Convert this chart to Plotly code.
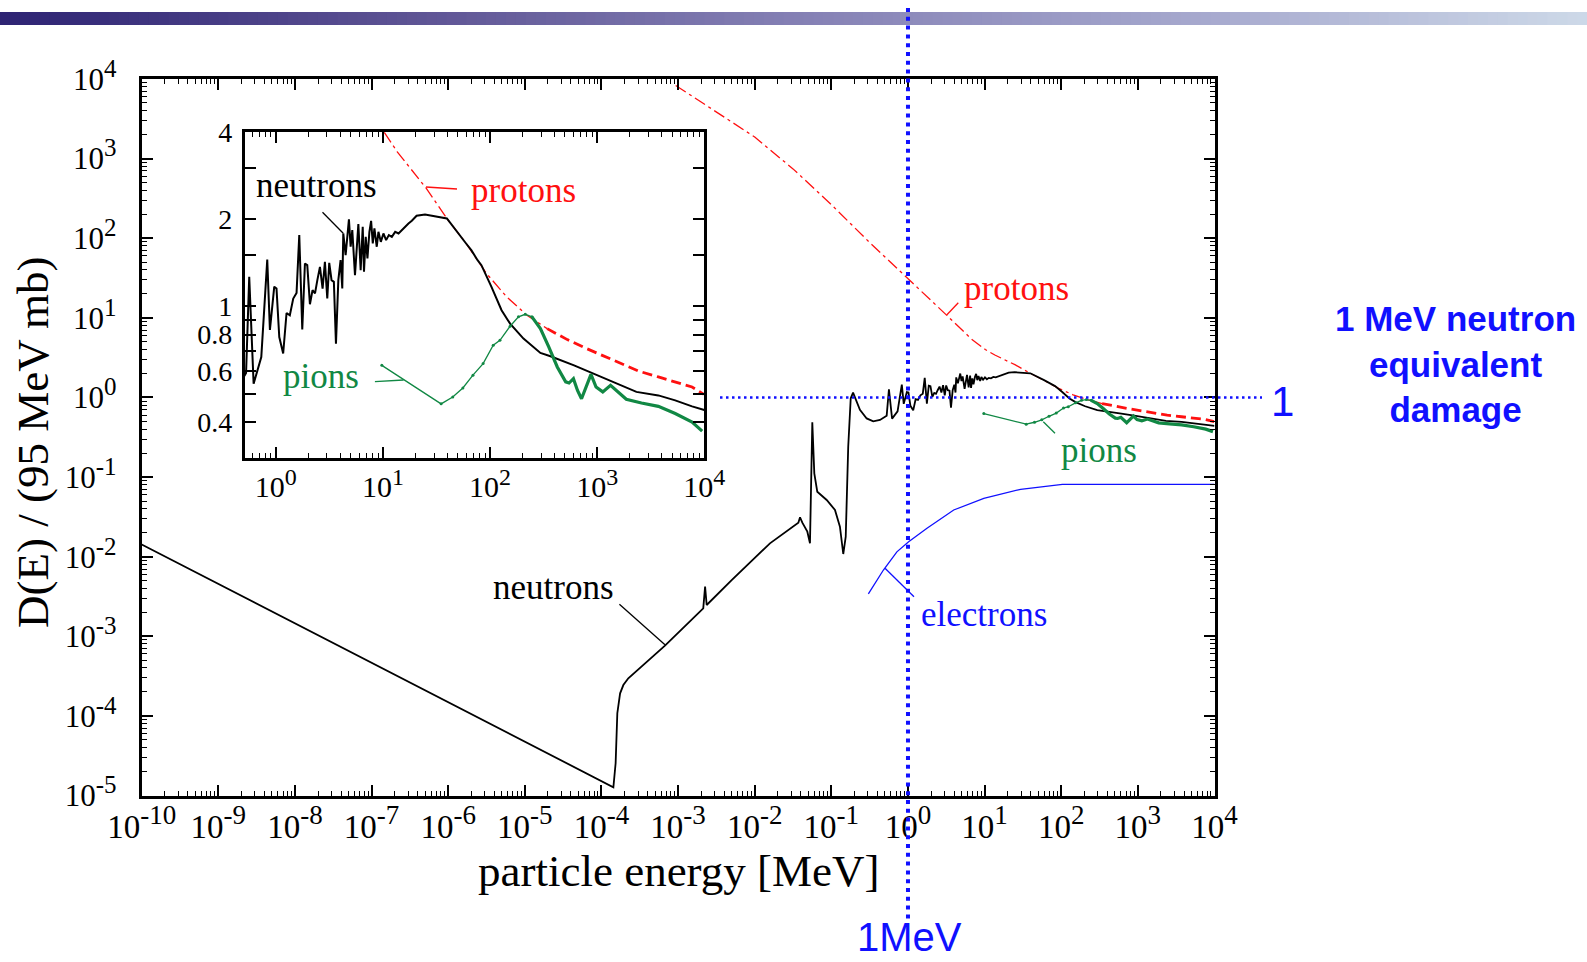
import math
import plotly.graph_objects as go

W, H = 1587, 962

# ---------------- damage functions, D(E) / (95 MeV mb) ----------------
neutron_energy = [
    1e-10, 1.43e-4, 1.53e-4, 1.61e-4, 1.75e-4, 1.93e-4, 2.24e-4, 6.74e-4,
    2.13e-3, 2.25e-3, 2.36e-3, 5.0e-3, 0.0158, 0.0371, 0.039, 0.0418,
    0.0486, 0.0526, 0.0564, 0.0599, 0.0655, 0.0869, 0.1115, 0.1294,
    0.143, 0.154, 0.166, 0.179, 0.192, 0.205, 0.236, 0.289, 0.352, 0.431,
    0.527, 0.564, 0.62, 0.731, 0.831, 0.88, 0.966, 1.014, 1.076, 1.17,
    1.258, 1.35, 1.453, 1.56, 1.654, 1.764, 1.868, 1.964, 2.08, 2.2,
    2.32, 2.44, 2.58, 2.73, 2.87, 3.02, 3.15, 3.31, 3.48, 3.64, 3.83,
    4.02, 4.17, 4.26, 4.48, 4.81, 4.99, 5.17, 5.48, 5.89, 6.19, 6.47,
    6.65, 6.9, 7.16, 7.47, 7.75, 8.03, 8.32, 8.75, 9.07, 9.55, 10.1,
    10.7, 11.35, 12.1, 13.0, 13.97, 15.0, 16.1, 17.3, 18.6, 20.6, 24.7,
    29.5, 36.6, 39.5, 59.7, 66.8, 76.4, 83.0, 103.0, 128.0, 153.7, 205.0,
    295.0, 366.0, 608.0, 939.0, 1256.0, 1679.0, 2325.0, 3724.0, 5350.0,
    7690.0, 10000.0,
]
neutron_damage = [
    0.0142, 1.27e-5, 2.54e-5, 1.08e-4, 1.92e-4, 2.44e-4, 2.97e-4, 7.62e-4,
    2.24e-3, 4.2e-3, 2.47e-3, 5.09e-3, 0.0147, 0.0267, 0.0312, 0.0267,
    0.0206, 0.0147, 0.487, 0.1115, 0.0655, 0.0515, 0.0386, 0.0238,
    0.0108, 0.0178, 0.24, 0.975, 1.15, 0.975, 0.70, 0.545, 0.50, 0.521,
    0.59, 1.265, 0.542, 0.67, 1.45, 0.83, 1.17, 1.153, 0.785, 0.689,
    0.95, 0.933, 1.065, 1.114, 1.762, 0.833, 1.406, 1.388, 1.018, 1.138,
    1.109, 1.232, 1.369, 1.153, 1.425, 1.065, 1.414, 1.232, 1.216, 0.745, 1.232,
    1.444, 1.153, 1.785, 1.503, 1.995, 1.606, 1.832, 1.282, 1.923, 1.334, 1.882,
    1.317, 1.738, 1.463, 1.808, 1.973, 1.648, 1.857, 1.606, 1.808, 1.67, 1.785,
    1.693, 1.762, 1.738, 1.808, 1.785, 1.832, 1.89, 1.932, 1.973, 2.053, 2.075,
    2.053, 2.026, 2.01, 1.648, 1.563, 1.444, 1.388, 1.169, 0.971, 0.873, 0.775,
    0.692, 0.674, 0.627, 0.585, 0.561, 0.535, 0.508, 0.494, 0.475,
    0.453, 0.44,
]

proton_energy = [
    9.3e-4, 3.16e-3, 0.01, 0.0316, 0.1, 0.316, 1.0, 3.16, 6.76, 10.2,
    13.6, 25.2, 39.5, 59.7, 69.2, 92.5, 142.9, 220.8, 341.0, 526.0,
    757.0, 1256.0, 2410.0, 3724.0, 5350.0, 7690.0, 9910.0,
]
proton_damage = [
    8300.0, 3900.0, 1866.0, 743.0, 264.0, 88.3, 31.3, 10.9, 5.4, 4.0,
    3.41, 2.56, 2.01, 1.65, 1.52, 1.30, 1.079, 0.933, 0.839, 0.769,
    0.722, 0.667, 0.600, 0.572, 0.550, 0.528, 0.498,
]

pion_energy = [
    9.76, 34.9, 44.8, 55.7, 69.2, 86.1, 107.0, 123.6, 153.7, 184.0,
    213.0, 246.0, 295.0, 353.0, 424.0, 508.0, 546.0, 600.0, 655.0, 714.0,
    785.0, 875.0, 976.0, 1128.0, 1332.0, 1561.0, 1870.0, 2592.0, 3724.0, 5350.0,
    7690.0, 9550.0,
]
pion_damage = [
    0.627, 0.462, 0.488, 0.524, 0.58, 0.636, 0.735, 0.765, 0.855, 0.921,
    0.94, 0.921, 0.839, 0.726, 0.619, 0.55, 0.545, 0.564, 0.514, 0.481,
    0.528, 0.584, 0.528, 0.508, 0.535, 0.508, 0.479, 0.465, 0.453, 0.428,
    0.40, 0.372,
]

electron_energy = [0.304, 0.478, 0.716, 1.02, 1.77, 3.95, 9.76, 29.5, 103.5, 10000.0]
electron_damage = [0.0034, 0.0068, 0.0115, 0.0154, 0.0227, 0.0386, 0.054, 0.0702, 0.081, 0.081]

# reference point: 1 MeV neutron
ref_energy = 1.0
ref_damage = 1.0

# ---------------- axis ticks ----------------
main_x_exponents = list(range(-10, 5))
main_y_exponents = list(range(-5, 5))
inset_x_exponents = [0, 1, 2, 3, 4]
inset_y_ticks = [0.4, 0.5, 0.6, 0.7, 0.8, 0.9, 1, 1.5, 2, 3, 4]
inset_y_labels = ["0.4", "", "0.6", "", "0.8", "", "1", "", "2", "", "4"]

# ---------------- layout geometry (pixels) ----------------
MX0, MX1, MY0, MY1 = 141.7, 1214.5, 79.0, 795.5      # main frame
IX0, IX1, IY0, IY1 = 244.8, 704.3, 131.7, 458.3      # inset frame
MAIN_XR, MAIN_YR = [-10, 4], [-5, 4]
INSET_XR, INSET_YR = [-0.29, 4.0], [math.log10(0.3), math.log10(4)]

SERIF = "Liberation Serif, Times New Roman, serif"
SANS = "Liberation Sans, Arial, sans-serif"
RED = "#ff1010"
GREEN = "#118844"
BLUE = "#1010ff"


def px(x):
    return x / W


def py(y):
    return 1 - y / H


def sup(k, size):
    return "10<sup><span style='font-size:%dpx'>%d</span></sup>" % (size, k)


fig = go.Figure()

# the same curves, drawn on the main axes and on the inset axes
for xa, ya, nw in (("x", "y", 1.8), ("x2", "y2", 2.0)):
    if xa == "x":
        fig.add_trace(go.Scatter(x=electron_energy, y=electron_damage, mode="lines",
                                 line=dict(color=BLUE, width=1.3),
                                 xaxis=xa, yaxis=ya, showlegend=False))
    fig.add_trace(go.Scatter(x=proton_energy[:19], y=proton_damage[:19], mode="lines",
                             line=dict(color=RED, width=1.3, dash="12px,4px,3px,4px"),
                             xaxis=xa, yaxis=ya, showlegend=False))
    fig.add_trace(go.Scatter(x=proton_energy[18:], y=proton_damage[18:], mode="lines",
                             line=dict(color=RED, width=2.8, dash="10px,5px"),
                             xaxis=xa, yaxis=ya, showlegend=False))
    fig.add_trace(go.Scatter(x=neutron_energy, y=neutron_damage, mode="lines",
                             line=dict(color="black", width=nw),
                             xaxis=xa, yaxis=ya, showlegend=False))
    fig.add_trace(go.Scatter(x=pion_energy[:12], y=pion_damage[:12], mode="lines+markers",
                             line=dict(color=GREEN, width=1.3),
                             marker=dict(size=3, color=GREEN),
                             xaxis=xa, yaxis=ya, showlegend=False))
    fig.add_trace(go.Scatter(x=pion_energy[11:], y=pion_damage[11:], mode="lines",
                             line=dict(color=GREEN, width=3.2),
                             xaxis=xa, yaxis=ya, showlegend=False))

axis_common = dict(type="log", showline=True, linecolor="black", mirror="ticks",
                   ticks="inside", tickcolor="black", showgrid=False, zeroline=False,
                   automargin=False)
minor_ticks = dict(ticks="inside", dtick="D1", ticklen=5, tickwidth=1.2, tickcolor="black")

fig.update_layout(
    width=W, height=H, autosize=False,
    margin=dict(l=0, r=0, t=0, b=0, pad=0, autoexpand=False),
    paper_bgcolor="white", plot_bgcolor="rgba(0,0,0,0)",
    xaxis=dict(axis_common, range=MAIN_XR, domain=[px(MX0), px(MX1)], anchor="y",
               linewidth=3, ticklen=11, tickwidth=1.5,
               tickfont=dict(family=SERIF, size=33, color="black"),
               tickvals=[10.0 ** k for k in main_x_exponents],
               ticktext=[sup(k, 27) for k in main_x_exponents],
               minor=minor_ticks),
    yaxis=dict(axis_common, range=MAIN_YR, domain=[py(MY1), py(MY0)], anchor="x",
               linewidth=3, ticklen=11, tickwidth=1.5, ticklabelstandoff=16,
               tickfont=dict(family=SERIF, size=31, color="black"),
               tickvals=[10.0 ** k for k in main_y_exponents],
               ticktext=[sup(k, 25) for k in main_y_exponents],
               minor=minor_ticks),
    xaxis2=dict(axis_common, range=INSET_XR, domain=[px(IX0), px(IX1)], anchor="y2",
                linewidth=3, ticklen=11, tickwidth=1.5,
                tickfont=dict(family=SERIF, size=30, color="black"),
                tickvals=[10.0 ** k for k in inset_x_exponents],
                ticktext=[sup(k, 24) for k in inset_x_exponents],
                minor=minor_ticks),
    yaxis2=dict(axis_common, range=INSET_YR, domain=[py(IY1), py(IY0)], anchor="x2",
                linewidth=3, ticklen=11, tickwidth=1.5, ticklabelstandoff=4,
                tickfont=dict(family=SERIF, size=28, color="black"),
                tickvals=inset_y_ticks, ticktext=inset_y_labels),
)

shapes = []

# header colour band
stops = [(0.0, (45, 35, 115)), (0.25, (92, 82, 147)), (0.5, (132, 128, 180)),
         (0.75, (165, 167, 205)), (1.0, (205, 217, 232))]
nband = 160
for i in range(nband):
    t = (i + 0.5) / nband
    for (t0, c0), (t1, c1) in zip(stops[:-1], stops[1:]):
        if t0 <= t <= t1:
            f = (t - t0) / (t1 - t0)
            c = tuple(int(round(a + (b - a) * f)) for a, b in zip(c0, c1))
            break
    shapes.append(dict(type="rect", xref="paper", yref="paper",
                       x0=i / nband, x1=(i + 1) / nband + 0.001, y0=py(25), y1=py(12),
                       fillcolor="rgb(%d,%d,%d)" % c, line=dict(width=0), layer="below"))

# 1 MeV reference lines, positioned through the main axis scales
ref_x_px = MX0 + (math.log10(ref_energy) - MAIN_XR[0]) / (MAIN_XR[1] - MAIN_XR[0]) * (MX1 - MX0)
ref_y_px = MY1 - (math.log10(ref_damage) - MAIN_YR[0]) / (MAIN_YR[1] - MAIN_YR[0]) * (MY1 - MY0)
shapes.append(dict(type="line", xref="paper", yref="paper",
                   x0=px(ref_x_px), x1=px(ref_x_px), y0=py(8), y1=py(921),
                   line=dict(color=BLUE, width=4, dash="4px,4.8px"), layer="above"))
shapes.append(dict(type="line", xref="paper", yref="paper",
                   x0=px(720), x1=px(1262), y0=py(ref_y_px), y1=py(ref_y_px),
                   line=dict(color=BLUE, width=2.5, dash="2.5px,3.5px"), layer="above"))

# label leader lines
leaders = [
    ((619.4, 604.2), (665.0, 644.7), "black"),      # neutrons (main)
    ((946.7, 315.0), (958.3, 302.7), RED),          # protons (main)
    ((1043.3, 421.7), (1055.0, 433.3), GREEN),      # pions (main)
    ((885.0, 568.3), (914.0, 596.7), BLUE),         # electrons
    ((322.5, 212.3), (343.2, 233.3), "black"),      # neutrons (inset)
    ((426.0, 187.0), (457.0, 189.0), RED),          # protons (inset)
    ((374.9, 381.7), (403.6, 380.0), GREEN),        # pions (inset)
]
for (x0, y0), (x1, y1), col in leaders:
    shapes.append(dict(type="line", xref="paper", yref="paper",
                       x0=px(x0), y0=py(y0), x1=px(x1), y1=py(y1),
                       line=dict(color=col, width=1.3)))

fig.update_layout(shapes=shapes)

annotations = []


def label(text, x, y, color, size, family=SERIF, **kw):
    annotations.append(dict(text=text, x=px(x), y=py(y), xref="paper", yref="paper",
                            xanchor="center", yanchor="middle", showarrow=False,
                            font=dict(family=family, size=size, color=color), **kw))


label("neutrons", 553.6, 587.0, "black", 35)
label("protons", 1016.0, 288.0, RED, 35)
label("pions", 1099.0, 450.0, GREEN, 35)
label("electrons", 984.0, 614.0, BLUE, 35)
label("neutrons", 316.0, 186.0, "black", 35)
label("protons", 523.0, 190.0, RED, 35)
label("pions", 321.0, 376.0, GREEN, 35)
label("particle energy [MeV]", 678.0, 871.0, "black", 45)
label("D(E) / (95 MeV mb)", 33.0, 442.0, "black", 45, textangle=-90)
label("<b>1 MeV neutron<br>equivalent<br>damage</b>", 1455.0, 364.0, BLUE, 35, family=SANS)
label("1", 1282.0, 401.0, BLUE, 42, family=SANS)
label("1MeV", 909.0, 937.0, BLUE, 40, family=SANS)

fig.update_layout(annotations=annotations)

fig.write_html("out.html")
